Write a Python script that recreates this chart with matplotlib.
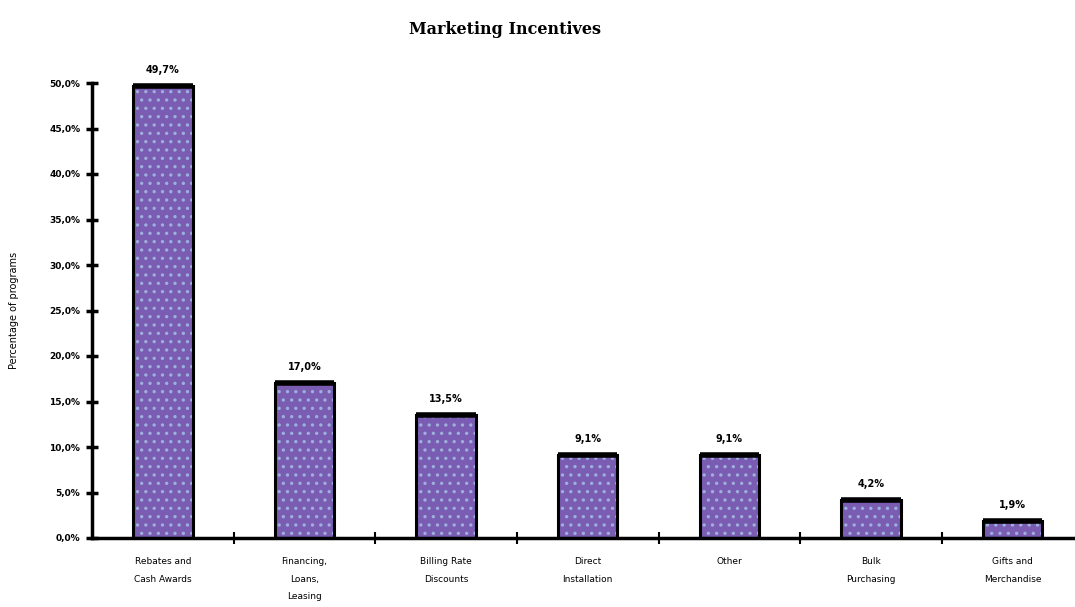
import matplotlib
matplotlib.use("Agg")
import matplotlib.pyplot as plt
import numpy as np

# Share of programs offering each marketing incentive
categories = ["Rebates and\nCash Awards", "Financing,\nLoans,\nLeasing", "Billing Rate\nDiscounts",
              "Direct\nInstallation", "Other", "Bulk\nPurchasing", "Gifts and\nMerchandise"]
values = [49.7, 17.0, 13.5, 9.1, 9.1, 4.2, 1.9]
yticks = [0, 5, 10, 15, 20, 25, 30, 35, 40, 45, 50]

plt.rcParams['hatch.linewidth'] = 1.2

fig = plt.figure(figsize=(10.75, 6.07), dpi=100)
ax = fig.add_axes([92/1075, 1 - 538/607, (1075-92)/1075, (538-83)/607])

x = np.arange(len(categories))
w = 0.42
# purple fill, then a layer of pale dots, then the black outline
ax.bar(x, values, width=w, color='#7a5cb2', linewidth=0, zorder=2)
ax.bar(x, values, width=w, facecolor='none', edgecolor='#9db0dc', linewidth=0, hatch='..', zorder=2)
ax.bar(x, values, width=w, facecolor='none', edgecolor='black', linewidth=2.2, zorder=3)
# heavier line along each bar top
ax.hlines(values, x - w/2, x + w/2, colors='black', linewidth=4, zorder=4)

for xi, v in zip(x, values):
    ax.text(xi, v + 1.2, f"{v:.1f}%".replace('.', ','), ha='center', va='bottom',
            fontsize=7, fontweight='bold', family='DejaVu Sans')

ax.set_xlim(-0.5, 6.44)
ax.set_ylim(0, 50)
ax.set_yticks(yticks)
ax.set_yticklabels([f"{t:.1f}%".replace('.', ',') for t in yticks], fontsize=6.5, fontweight='bold')

ax.set_xticks(x)
ax.set_xticklabels(categories, fontsize=6.5, linespacing=2.2, va='top')
ax.tick_params(axis='x', length=0, pad=14)
ax.set_xticks(np.arange(len(categories) - 1) + 0.5, minor=True)
ax.tick_params(axis='x', which='minor', direction='inout', length=9, width=1.5)
ax.tick_params(axis='y', direction='inout', length=9, width=2.5, pad=4)

for side in ['top', 'right']:
    ax.spines[side].set_visible(False)
for side in ['left', 'bottom']:
    ax.spines[side].set_linewidth(2.5)

ax.set_ylabel("Percentage of programs", fontsize=7, labelpad=22)
fig.text(505/1075, 1 - 30/607, "Marketing Incentives", ha='center', va='center',
         fontsize=11.5, fontweight='bold', family='DejaVu Serif')

fig.savefig("out.png", dpi=100)
